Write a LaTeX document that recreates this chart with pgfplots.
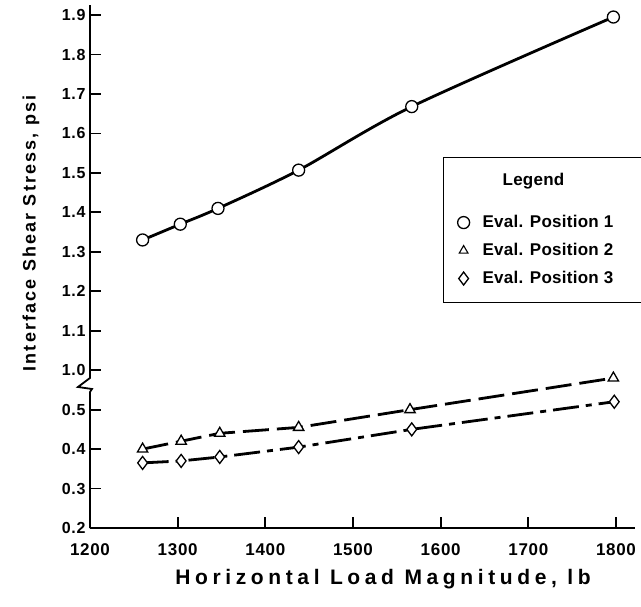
\documentclass[border=0pt]{standalone}
\usepackage{fontspec}
\setmainfont{Liberation Sans}
\newfontfamily\xlabfont{Liberation Sans}[LetterSpace=22]
\newfontfamily\ylabfont{Liberation Sans}[LetterSpace=12]
\newfontfamily\tickfont{Liberation Sans}[LetterSpace=4]
\newfontfamily\legfont{Liberation Sans}[LetterSpace=1.5]
\usepackage{pgfplots}
\pgfplotsset{compat=1.18}
\pgfplotsset{
  limgT/.style={legend image code/.code={\path[draw=none, fill=none] (-20bp,-28bp) rectangle (19bp,23bp);}},
  limgA/.style={legend image code/.code={\path[draw=none, fill=none] (-20bp,-14bp) rectangle (19bp,14bp); \draw[##1] plot coordinates {(0bp,0bp)};}},
  limgB/.style={legend image code/.code={\path[draw=none, fill=none] (-20bp,-24bp) rectangle (19bp,14bp); \draw[##1] plot coordinates {(0bp,0bp)};}},
}
\begin{document}
\begin{tikzpicture}
\useasboundingbox (-90bp,-79bp) rectangle (551bp,528bp);
\begin{axis}[
  at={(0,0)}, anchor=south west, scale only axis,
  width=545.3bp, height=522.8bp,
  xmin=1200, xmax=1822, ymin=0.2, ymax=1.525,
  axis x line=bottom, axis y line=left,
  axis line style={-, line width=1.8bp},
  y axis line style={draw=none},
  tick align=inside,
  major tick length=11bp,
  tick style={line width=1.8bp, black},
  xtick={1200,1300,1400,1500,1600,1700,1800},
  ytick={0.2,0.3,0.4,0.5,0.6,0.7,0.8,0.9,1.0,1.1,1.2,1.3,1.4,1.5},
  yticklabels={0.2,0.3,0.4,0.5,1.0,1.1,1.2,1.3,1.4,1.5,1.6,1.7,1.8,1.9},
  /pgf/number format/assume math mode=true,
  /pgf/number format/1000 sep={},
  xticklabel style={font=\tickfont\bfseries\fontsize{17bp}{19bp}\selectfont, yshift=-12bp},
  yticklabel style={font=\tickfont\bfseries\fontsize{16bp}{18bp}\selectfont, xshift=-1bp},
  y filter/.expression={y>0.75 ? y-0.4 : y},
  legend style={at={(0.6474,0.7097)}, anchor=north west, draw=black,
    line width=1.2bp, inner xsep=0bp, inner ysep=0bp,
    row sep=0bp, column sep=0bp,
    font=\legfont\bfseries\fontsize{17bp}{19bp}\selectfont,
    nodes={inner sep=0bp}},
  legend cell align=left,
]
\addlegendimage{limgT}
\addlegendentry{\hspace*{20bp}Legend\hspace*{80bp}}
\addlegendimage{only marks, mark=*, mark size=6bp, mark options={fill=white, line width=1.3bp}, black, limgA}
\addlegendentry{Eval. Position 1}
\addlegendimage{only marks, mark=triangle*, mark size=5bp, mark options={fill=white, line width=1.1bp}, black, limgA}
\addlegendentry{Eval. Position 2}
\addlegendimage{only marks, mark=diamond*, mark size=6.5bp, mark options={fill=white, line width=1.3bp}, black, limgB}
\addlegendentry{Eval. Position 3}

\addplot[forget plot, black, line width=2.8bp, smooth, tension=0.5,
  mark=*, mark size=6bp, mark options={solid, fill=white, line width=1.3bp}]
  coordinates {(1260,1.33) (1303,1.37) (1346,1.41) (1438,1.507) (1567,1.668) (1797,1.895)};
\addplot[forget plot, black, line width=2.8bp, dash pattern=on 26bp off 8bp,
  mark=triangle*, mark size=6bp, mark options={solid, fill=white, line width=1.3bp}]
  coordinates {(1260,0.40) (1304,0.42) (1348,0.44) (1438,0.455) (1565,0.50) (1797,0.58)};
\addplot[forget plot, black, line width=2.8bp, dash pattern=on 26bp off 7bp on 6bp off 7bp,
  mark=diamond*, mark size=6.5bp, mark options={solid, fill=white, line width=1.3bp}]
  coordinates {(1260,0.365) (1304,0.37) (1348,0.38) (1438,0.405) (1567,0.45) (1798,0.52)};
\end{axis}
\draw[line width=1.8bp, line join=miter] (0bp,0bp) -- (0bp,136bp) -- (2bp,139bp) -- (-12bp,141bp) -- (0bp,150bp) -- (0bp,522.8bp);
\node[font=\xlabfont\bfseries\fontsize{21bp}{23bp}\selectfont] at (293bp,-51bp) {Horizontal Load Magnitude, lb};
\node[rotate=90, font=\ylabfont\bfseries\fontsize{18bp}{20bp}\selectfont] at (-59bp,294.5bp) {Interface Shear Stress, psi};
\end{tikzpicture}
\end{document}
